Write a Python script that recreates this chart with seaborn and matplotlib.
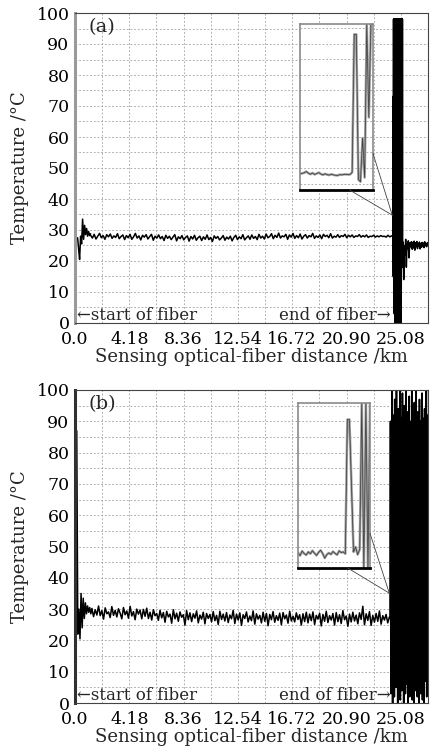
import numpy as np
import matplotlib
matplotlib.use("Agg")
import matplotlib.pyplot as plt
from matplotlib.patches import ConnectionPatch
import seaborn as sns

# ---------------- data ----------------
xticks_km = [0.0, 4.18, 8.36, 12.54, 16.72, 20.90, 25.08]
xtick_labels = ["0.0", "4.18", "8.36", "12.54", "16.72", "20.90", "25.08"]
yticks_deg = [0, 10, 20, 30, 40, 50, 60, 70, 80, 90, 100]
x_max_km = 27.17

# panel (a)
a_start_range = (0.2, 1.2)
a_start_vals = [27.5, 24, 20.5, 28, 25.5, 33.5, 27, 31.5, 28.5, 30.5, 28, 29.5, 28.2, 28.8]
a_main_range = (1.2, 24.5)
a_main_vals = [
    28.3, 27.4, 28.6, 27.1, 28.0, 28.9, 27.5, 28.2, 27.0, 28.5, 27.8, 28.7, 27.3, 28.1, 27.6, 28.8, 27.2, 27.9, 28.4, 26.9,
    28.2, 27.5, 28.6, 27.0, 27.8, 28.9, 27.4, 28.1, 26.8, 28.3, 27.7, 28.5, 27.1, 27.9, 28.6, 26.7, 28.0, 27.4, 28.4, 27.2,
    27.9, 26.6, 28.3, 27.3, 28.0, 26.9, 27.7, 28.5, 26.5, 27.8, 27.2, 28.2, 26.8, 27.6, 28.1, 26.4, 27.9, 27.1, 28.3, 26.7,
    27.5, 28.0, 26.6, 27.8, 27.0, 28.4, 26.9, 27.6, 26.3, 28.1, 27.3, 27.9, 26.8, 27.4, 28.2, 26.7, 27.7, 27.1, 28.0, 26.5,
    27.6, 28.3, 26.9, 27.8, 27.2, 28.5, 26.8, 27.5, 28.1, 27.0, 28.4, 27.3, 27.9, 26.9, 28.6, 27.4, 28.0, 27.1, 28.7, 27.5,
    27.9, 28.8, 27.2, 28.3, 27.6, 29.0, 27.4, 28.1, 27.8, 28.6, 27.0, 28.4, 27.7, 28.9, 27.3, 28.2, 27.5, 28.7, 27.1, 28.0,
    28.5, 27.4, 28.2, 27.8, 28.9, 27.3, 28.1, 27.6, 28.4, 27.2, 28.6, 27.9, 28.3, 27.5, 28.8, 27.4, 28.0, 27.7, 28.5, 27.6,
    28.2, 27.9, 28.6, 27.5, 28.3, 27.8, 28.4, 27.6, 28.1, 27.9, 28.5, 27.7, 28.2, 27.8, 28.4, 27.6, 28.0, 27.9, 28.3, 27.7,
    28.1, 27.8, 28.2, 27.9, 28.0, 27.7, 28.3, 27.8, 28.1, 28.0,
]
a_end_range = (24.5, 25.2)
a_end_vals = [28, 73, 15, 98, 12, 98, 3, 98, 18, 98, 0, 98, 10, 98, 22, 98, 16, 98, 15, 98,
              0, 98, 9, 98, 20, 98, 14, 98, 14, 98, 0, 98, 11, 98, 25, 98, 18, 98, 19, 26]
a_tail_range = (25.2, 27.17)
a_tail_vals = [20, 26, 14, 25, 22, 27, 18, 25.5, 24, 26.5, 21, 25, 26, 24.5, 26.2, 23.8, 25.8, 24.2, 26.4, 23.5,
               25.9, 24.6, 26.3, 24.0, 25.7, 24.8, 26.1, 23.9, 25.6, 24.4, 26.0, 24.7, 25.8, 24.3, 26.2, 24.9,
               25.5, 24.6, 25.9, 25.2]
a_inset_vals = [27.8, 28.0, 28.3, 28.9, 28.1, 27.6, 28.2, 27.5, 27.9, 28.4, 27.7, 27.3, 27.8, 27.4, 27.2,
                27.6, 27.3, 27.1, 27.0, 27.4, 27.3, 27.5, 27.6, 27.4, 27.5,
                28.5, 95, 95, 25, 24, 45, 26, 100, 55, 100, 100]

# panel (b)
b_start_range = (0.05, 1.3)
b_start_vals = [15, 87, 22, 30, 20.5, 35, 24, 33.5, 27, 32, 28.5, 31, 29, 30.5, 28.5, 30]
b_main_range = (1.3, 24.2)
b_main_vals = [
    30.2, 27.6, 29.8, 28.1, 31.0, 27.9, 29.5, 26.8, 30.4, 28.5, 29.1, 27.3, 30.8, 28.0, 29.6, 27.5, 30.1, 28.7, 26.9, 30.5,
    28.2, 29.4, 27.1, 30.9, 27.8, 29.2, 26.6, 30.0, 28.4, 29.7, 26.9, 29.9, 27.7, 30.3, 27.0, 29.0, 26.5, 29.8, 27.9, 28.6,
    26.4, 29.6, 27.2, 28.9, 25.8, 29.3, 27.5, 28.4, 25.5, 29.8, 26.9, 28.7, 26.1, 29.1, 27.4, 28.2, 24.9, 29.5, 26.6, 28.8,
    26.0, 28.5, 27.1, 29.4, 25.6, 28.1, 26.8, 29.0, 25.3, 28.6, 27.0, 28.3, 25.9, 29.2, 26.3, 28.0, 25.1, 29.3, 26.7, 28.4,
    26.2, 28.9, 25.7, 28.1, 26.9, 29.6, 25.4, 28.4, 26.5, 28.8, 24.8, 28.2, 27.0, 29.1, 25.9, 27.8, 26.3, 29.4, 25.2, 28.5,
    26.8, 28.0, 25.6, 29.0, 26.1, 28.6, 24.7, 28.3, 26.6, 29.2, 25.8, 27.9, 26.4, 28.7, 25.0, 28.9, 26.9, 28.1, 25.5, 29.3,
    26.2, 27.7, 25.9, 28.8, 26.7, 28.2, 24.9, 28.5, 26.0, 29.0,
    25.6, 28.4, 26.3, 29.1, 25.1, 28.0, 26.8, 28.7, 24.6, 28.3, 26.1, 29.3, 25.7, 27.9, 26.5, 28.6, 24.9, 28.9, 26.0, 28.2,
    25.4, 29.5, 26.6, 27.8, 24.5, 28.4, 25.9, 29.0, 26.2, 28.1, 25.3, 28.8, 26.7, 30.9, 25.0, 28.5, 26.4, 29.2, 24.8, 28.0,
    25.8, 28.6, 26.1, 29.4, 25.2, 27.9, 26.5, 28.3, 25.6, 27.5,
]
b_end_range = (24.25, 27.17)
b_end_vals = [27, 90, 3, 88, 10, 100, 0, 85, 8, 92, 2, 97, 12, 80, 5, 100, 9, 89, 0, 94,
              6, 86, 11, 100, 1, 91, 7, 83, 4, 99, 10, 88, 0, 95, 8, 90, 3, 100, 12, 84,
              6, 93, 0, 87, 9, 98, 2, 90, 5, 82, 11, 100, 1, 92, 7, 86, 0, 96, 10, 89,
              4, 100, 8, 85, 2, 93, 12, 88, 0, 97, 6, 90, 3, 84, 9, 99, 1, 91, 5, 87,
              0, 94, 11, 86, 7, 100, 2, 92, 8, 88]
b_inset_vals = [27.5, 26.0, 28.2, 27.0, 26.3, 27.8, 26.9, 28.4, 27.2, 26.1, 27.6, 28.6, 27.0, 24.8,
                26.5, 27.3, 26.6, 28.0, 27.1, 26.4, 28.3, 27.5, 27.8, 26.9,
                92, 92, 60, 27.8, 30.2, 26.5, 29.0, 100, 20, 100, 20, 100]

# ---------------- style ----------------
sns.set_theme(style="white")
plt.rcParams["font.family"] = ["DejaVu Serif", "DejaVu Sans"]
plt.rcParams["font.size"] = 11.5
plt.rcParams["axes.unicode_minus"] = False
plt.rcParams["path.simplify"] = False

fig = plt.figure(figsize=(4.37, 7.53), dpi=100)
fig.patch.set_facecolor("white")

grid_kw = dict(color="#a3a3a3", lw=0.6, ls=(0, (2.2, 2.2)))


def seg(ax, rng, vals, lw=1.1, color="black"):
    x = np.linspace(rng[0], rng[1], len(vals))
    sns.lineplot(x=x, y=vals, ax=ax, color=color, lw=lw, estimator=None, sort=False)


def make_panel(rect, label, segments, inset_rect, inset_vals, target, conn_a, conn_b, left_color):
    ax = fig.add_axes(rect)
    ax.set_xlim(0, x_max_km)
    ax.set_ylim(0, 100)
    for s in segments:
        seg(ax, *s)
    ax.set_xticks(xticks_km)
    ax.set_xticklabels(xtick_labels)
    ax.set_xticks(list(np.array(xticks_km) + 2.09), minor=True)
    ax.set_yticks(yticks_deg)
    ax.set_yticks(np.arange(5, 100, 10), minor=True)
    ax.grid(True, which="both", **grid_kw)
    ax.tick_params(which="both", length=0, labelsize=12.5, colors="black")
    ax.tick_params(axis="x", pad=6)
    ax.tick_params(axis="y", pad=4)
    for sp in ax.spines.values():
        sp.set_color("#444444")
        sp.set_linewidth(0.8)
    ax.spines["left"].set_color(left_color)
    ax.spines["left"].set_linewidth(2.2)
    ax.set_xlabel("Sensing optical-fiber distance /km", fontsize=13, labelpad=0)
    ax.set_ylabel("Temperature /°C", fontsize=13, labelpad=5)
    ax.text(0.037, 0.985, label, transform=ax.transAxes, ha="left", va="top", fontsize=14)
    ax.text(0.15, 2.5, "\u2190start of fiber", ha="left", va="center", fontsize=12,
            family=["DejaVu Serif", "DejaVu Sans"])
    ax.text(24.3, 2.5, "end of fiber\u2192", ha="right", va="center", fontsize=12,
            family=["DejaVu Serif", "DejaVu Sans"])

    axin = fig.add_axes(inset_rect)
    axin.set_xlim(0, 1)
    axin.set_ylim(20, 100)
    xi = np.linspace(0, 1, len(inset_vals))
    sns.lineplot(x=xi, y=inset_vals, ax=axin, color="#a0a0a0", lw=1.8, estimator=None, sort=False)
    sns.lineplot(x=xi, y=inset_vals, ax=axin, color="#3a3a3a", lw=0.5, estimator=None, sort=False)
    axin.set_xticks([])
    axin.set_yticks([])
    fig.canvas.draw()
    for v in range(5, 100, 5):
        disp = ax.transData.transform((0, v))
        yv = axin.transData.inverted().transform(disp)[1]
        if 20 < yv < 100:
            axin.axhline(yv, **grid_kw, zorder=0)
    for sp in axin.spines.values():
        sp.set_color("#8a8a8a")
        sp.set_linewidth(1.2)
    axin.spines["bottom"].set_color("black")
    axin.spines["bottom"].set_linewidth(2.0)
    for xyA in (conn_a, conn_b):
        cp = ConnectionPatch(xyA=xyA, coordsA=axin.transAxes, xyB=target, coordsB=ax.transData,
                             color="#444444", lw=0.6)
        fig.add_artist(cp)
    return ax


W, H = 437, 753
make_panel([75 / W, (H - 323) / H, 353 / W, 310 / H], "(a)",
           [(a_start_range, a_start_vals), (a_main_range, a_main_vals),
            (a_end_range, a_end_vals, 1.8), (a_tail_range, a_tail_vals)],
           [300 / W, (H - 190) / H, 73 / W, 166 / H], a_inset_vals,
           (24.42, 34.8), (0.68, 0.0), (1.0, 0.22), "#9a9a9a")
make_panel([75 / W, (H - 703) / H, 353 / W, 313 / H], "(b)",
           [(b_start_range, b_start_vals), (b_main_range, b_main_vals),
            (b_end_range, b_end_vals, 1.2)],
           [298 / W, (H - 568) / H, 72 / W, 165 / H], b_inset_vals,
           (24.19, 35.1), (0.69, 0.0), (1.0, 0.21), "#303030")

fig.savefig("out.png", dpi=100, facecolor="white")
